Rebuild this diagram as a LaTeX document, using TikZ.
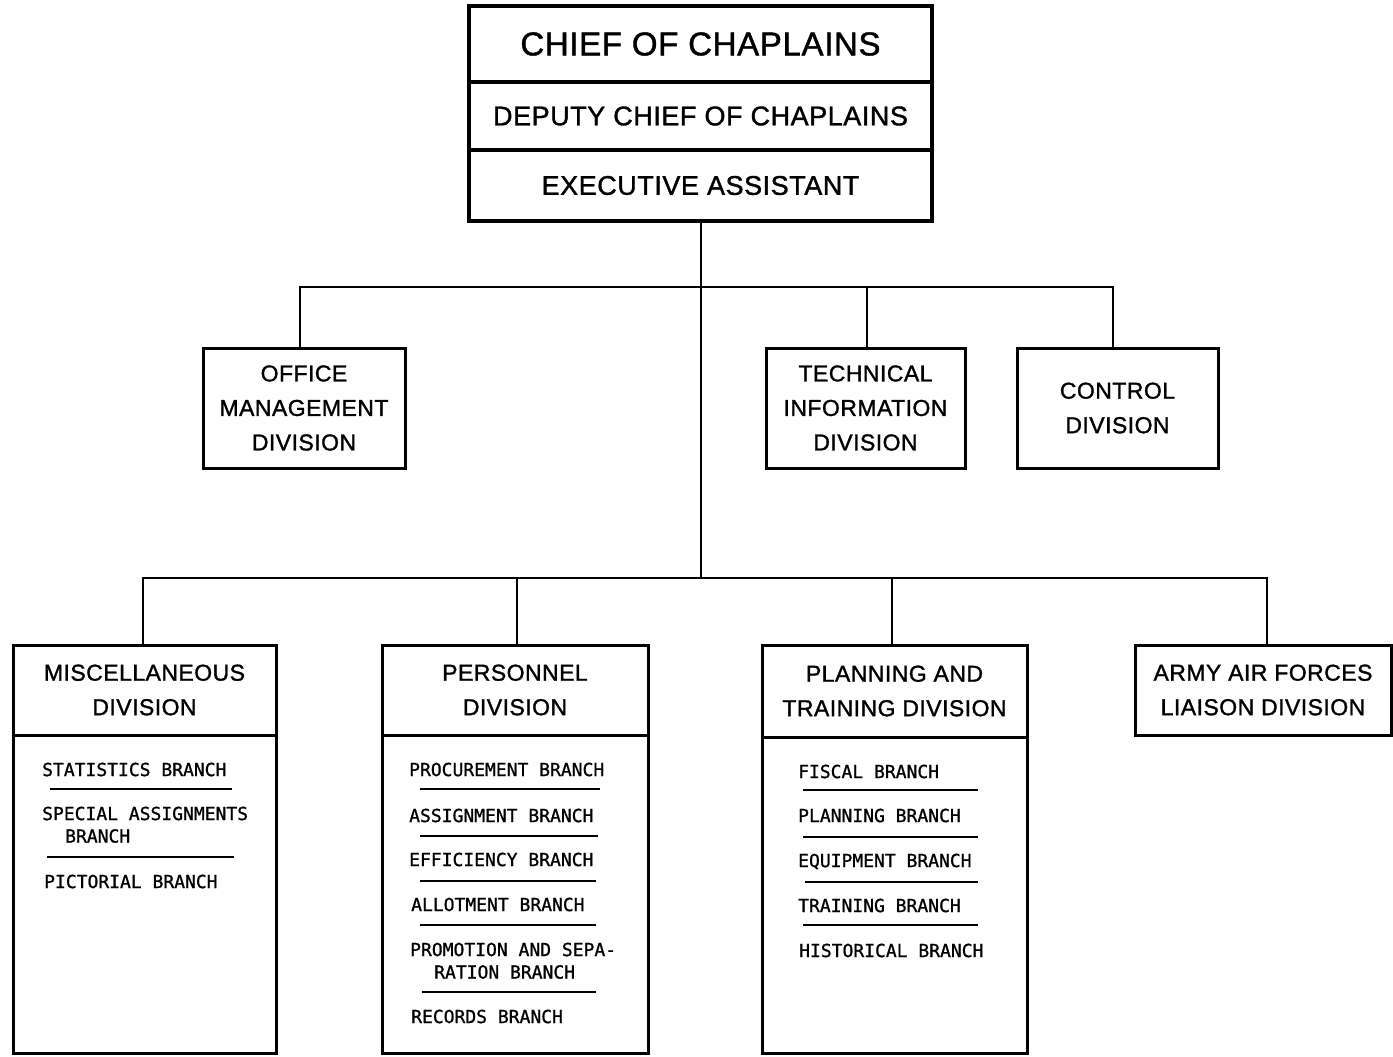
\documentclass[tikz,border=0pt]{standalone}
\usepackage{fontspec}
\setmainfont{Liberation Sans}[FakeBold=1.3,LetterSpace=2]
\newfontfamily\brfont{DejaVu Sans Mono}[FakeBold=1.0]
\begin{document}
\begin{tikzpicture}[x=1pt,y=-1pt,
  box/.style={draw, line width=3pt, inner sep=0pt, align=center},
  topbox/.style={box, line width=3.6pt, minimum width=463pt},
  hdr/.style={font=\fontsize{23}{34.5}\selectfont},
  br/.style={anchor=north west, inner sep=0pt, align=left, font=\brfont\fontsize{18}{22.5}\selectfont},
  sepline/.style={line width=2.2pt},
  conn/.style={line width=2.8pt}]
\useasboundingbox[fill=white] (0,0) rectangle (1393,1057);

% top box
\node[topbox, minimum height=76pt, font=\fontsize{33}{40}\selectfont] (chief) at (700.5,44) {CHIEF OF CHAPLAINS};
\node[topbox, minimum height=68pt, font=\fontsize{27}{32}\selectfont] (deputy) at (700.5,116) {DEPUTY CHIEF OF CHAPLAINS};
\node[topbox, minimum height=71pt, font=\fontsize{27}{32}\selectfont] (exec) at (700.5,185.5) {EXECUTIVE ASSISTANT};

% middle divisions
\node[box, hdr, minimum width=202pt, minimum height=120pt] (office) at (304,408) {OFFICE\\MANAGEMENT\\DIVISION};
\node[box, hdr, minimum width=199pt, minimum height=120pt] (tech) at (865.5,408) {TECHNICAL\\INFORMATION\\DIVISION};
\node[box, hdr, minimum width=201pt, minimum height=120pt] (control) at (1117.5,408) {CONTROL\\DIVISION};

% bottom divisions (headers)
\node[box, hdr, minimum width=263pt, minimum height=90pt] (misc) at (144.5,690) {MISCELLANEOUS\\DIVISION};
\node[box, hdr, minimum width=266pt, minimum height=90pt] (pers) at (515,690) {PERSONNEL\\DIVISION};
\node[box, hdr, minimum width=265pt, minimum height=92pt] (plan) at (894.5,691) {PLANNING AND\\TRAINING DIVISION};
\node[box, hdr, minimum width=256pt, minimum height=90pt] (aaf) at (1263,690) {ARMY AIR FORCES\\LIAISON DIVISION};

% bottom division bodies
\node[box, minimum width=263pt, minimum height=318pt] (miscb) at (144.5,894) {};
\node[box, minimum width=266pt, minimum height=318pt] (persb) at (515,894) {};
\node[box, minimum width=265pt, minimum height=316pt] (planb) at (894.5,895) {};

% connectors
\coordinate (j1) at (701,287);
\coordinate (j2) at (701,578);
\draw[conn] (exec.south -| j1) -- (j2);
\draw[conn] ([xshift=-4pt]office.north) |- (j1) -| ([xshift=-4.5pt]control.north);
\draw[conn] ([xshift=1.5pt]tech.north) -- ([xshift=1.5pt]tech.north |- j1);
\draw[conn] ([xshift=-1.5pt]misc.north) |- (j2) -| ([xshift=4pt]aaf.north);
\draw[conn] ([xshift=2pt]pers.north) -- ([xshift=2pt]pers.north |- j2);
\draw[conn] ([xshift=-2.5pt]plan.north) -- ([xshift=-2.5pt]plan.north |- j2);

% miscellaneous branches
\node[br] (m1) at (42,762.5) {STATISTICS BRANCH};
\node[br] (m2) at (42,806.5) {SPECIAL ASSIGNMENTS\\\hspace*{23pt}BRANCH};
\node[br] (m3) at (44,874.5) {PICTORIAL BRANCH};
\draw[sepline] (50,789) -- (232,789);
\draw[sepline] (47,857) -- (234,857);

% personnel branches
\node[br] (p1) at (409,762.5) {PROCUREMENT BRANCH};
\node[br] (p2) at (409,808.5) {ASSIGNMENT BRANCH};
\node[br] (p3) at (409,852.5) {EFFICIENCY BRANCH};
\node[br] (p4) at (411,897.5) {ALLOTMENT BRANCH};
\node[br] (p5) at (410,942.5) {PROMOTION AND SEPA-\\\hspace*{24pt}RATION BRANCH};
\node[br] (p6) at (411,1009.5) {RECORDS BRANCH};
\draw[sepline] (420,789) -- (600,789);
\draw[sepline] (420,836) -- (598,836);
\draw[sepline] (420,881) -- (596,881);
\draw[sepline] (420,925) -- (596,925);
\draw[sepline] (422,992) -- (596,992);

% planning branches
\node[br] (t1) at (798,764.5) {FISCAL BRANCH};
\node[br] (t2) at (798,808.5) {PLANNING BRANCH};
\node[br] (t3) at (798,853.5) {EQUIPMENT BRANCH};
\node[br] (t4) at (798,898.5) {TRAINING BRANCH};
\node[br] (t5) at (799,943.5) {HISTORICAL BRANCH};
\draw[sepline] (803,790) -- (978,790);
\draw[sepline] (803,837) -- (978,837);
\draw[sepline] (805,882) -- (978,882);
\draw[sepline] (803,925) -- (978,925);
\end{tikzpicture}
\end{document}
